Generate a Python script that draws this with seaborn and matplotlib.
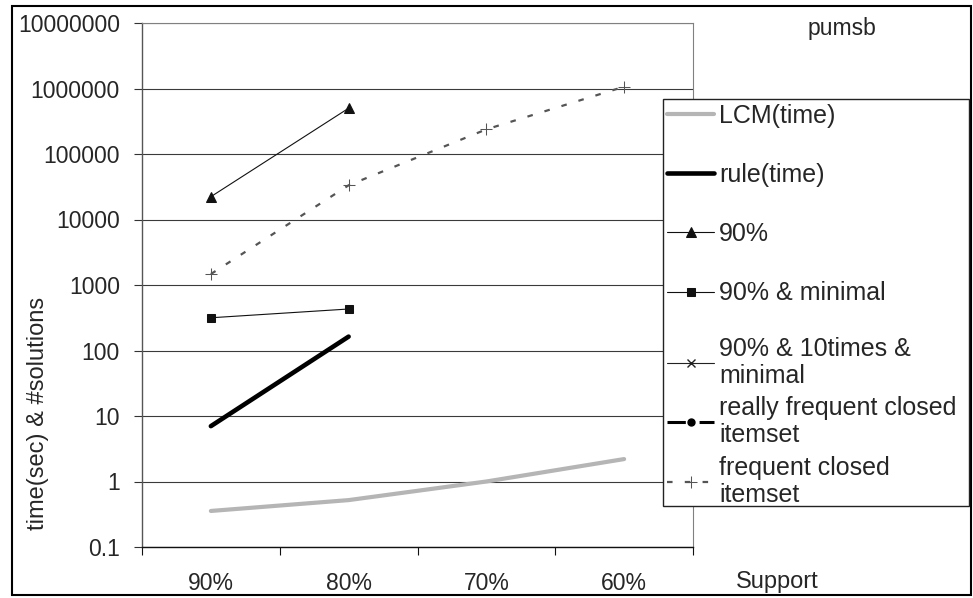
import numpy as np
import pandas as pd
import matplotlib
matplotlib.use("Agg")
import matplotlib.pyplot as plt
from matplotlib.patches import Rectangle
from matplotlib.ticker import FixedLocator, NullFormatter, NullLocator
import seaborn as sns

# data
support = ["90%", "80%", "70%", "60%"]
lcm_time = [0.355, 0.52, 1.0, 2.2]
rule_time = [7.0, 163]
sol_90 = [22300, 500000]
sol_90_min = [316, 430]
freq_closed = [1470, 33300, 238000, 1066000]
y_ticks = [0.1, 1, 10, 100, 1000, 10000, 100000, 1000000, 10000000]
y_ticklabels = ["0.1", "1", "10", "100", "1000", "10000", "100000", "1000000", "10000000"]

sns.set_style("white")
plt.rcParams["font.family"] = ["Liberation Sans", "DejaVu Sans"]

W, H = 973, 598
fig = plt.figure(figsize=(W / 100, H / 100), dpi=100)


def fx(px):
    return px / W


def fy(py):
    return 1 - py / H


ax = fig.add_axes([fx(142), fy(547), (693 - 142) / W, (547 - 23) / H])

x_all = np.arange(len(support))
x_two = x_all[:2]

sns.lineplot(x=x_all, y=lcm_time, ax=ax, color="#b5b5b5", lw=3,
             label="LCM(time)", legend=False)
sns.lineplot(x=x_two, y=rule_time, ax=ax, color="black", lw=3.3,
             label="rule(time)", legend=False)
sns.lineplot(x=x_two, y=sol_90, ax=ax, color="#111111", lw=0.8, marker="^",
             markersize=7, markeredgecolor="#111111", label="90%", legend=False)
sns.lineplot(x=x_two, y=sol_90_min, ax=ax, color="#111111", lw=0.8, marker="s",
             markersize=6, markeredgecolor="#111111", label="90% & minimal",
             legend=False)
# series without points in this chart, kept for the legend
ax.plot([], [], color="#222222", lw=0.8, marker="x", markersize=6,
        label="90% & 10times &\nminimal")
ax.plot([], [], color="black", lw=2.2, ls=(0, (6, 1.5, 1.5, 1.5)), marker="o",
        markersize=5, label="really frequent closed\nitemset")
sns.lineplot(x=x_all, y=freq_closed, ax=ax, color="#555555", lw=1.6,
             marker="+", markersize=8, markeredgecolor="#555555",
             label="frequent closed\nitemset", legend=False)
ax.lines[-1].set_dashes((2.5, 5.5))

ax.set_yscale("log")
ax.set_ylim(0.1, 1e7)
ax.yaxis.set_major_locator(FixedLocator(y_ticks))
ax.set_yticklabels(y_ticklabels)
ax.yaxis.set_minor_locator(NullLocator())
ax.grid(axis="y", color="#3a3a3a", lw=0.8)
ax.tick_params(axis="y", which="major", direction="out", length=6, width=0.8,
               color="#333333", labelsize=16.5, pad=10, left=True)

ax.set_xlim(-0.5, len(support) - 0.5)
ax.xaxis.set_major_locator(FixedLocator(np.arange(len(support) + 1) - 0.5))
ax.xaxis.set_major_formatter(NullFormatter())
ax.xaxis.set_minor_locator(FixedLocator(x_all))
ax.set_xticklabels(support, minor=True)
ax.tick_params(axis="x", which="major", direction="out", length=6, width=0.8,
               color="#111111", bottom=True)
ax.tick_params(axis="x", which="minor", length=0, labelsize=16.5, pad=18)
ax.set_xlabel("")
ax.set_ylabel("")

for side in ["top", "right"]:
    ax.spines[side].set_color("#808080")
    ax.spines[side].set_linewidth(0.8)
ax.spines["left"].set_color("#555555")
ax.spines["bottom"].set_color("#111111")
for side in ["left", "bottom"]:
    ax.spines[side].set_linewidth(1)

fig.text(fx(38), fy(413), "time(sec) & #solutions", rotation=90,
         ha="center", va="center", fontsize=17)
fig.text(fx(777), fy(582), "Support", ha="center", va="center", fontsize=17)
fig.text(fx(842), fy(29), "pumsb", ha="center", va="center", fontsize=16.5)

handles, labels = ax.get_legend_handles_labels()
leg_kw = dict(loc="upper left", frameon=False, fontsize=18, handlelength=1.88,
              handletextpad=0.2, borderpad=0.0, borderaxespad=0)
leg1 = fig.legend(handles[:4], labels[:4], bbox_to_anchor=(fx(667), fy(103.5)),
                  labelspacing=1.41, **leg_kw)
leg2 = fig.legend(handles[4:], labels[4:], bbox_to_anchor=(fx(667), fy(336.5)),
                  labelspacing=0.34, **leg_kw)
for t in leg2.get_texts():
    t.set_linespacing(1.16)

# legend frame and outer chart border
fig.add_artist(Rectangle((fx(663), fy(506)), (969 - 663) / W, (506 - 99) / H,
                         transform=fig.transFigure, fill=True, facecolor="white",
                         edgecolor="#222222", lw=1, zorder=2))
leg1.set_zorder(3)
leg2.set_zorder(3)
fig.add_artist(Rectangle((fx(12), fy(595)), (971 - 12) / W, (595 - 6) / H,
                         transform=fig.transFigure, fill=False,
                         edgecolor="black", lw=1.5))

fig.savefig("out.png", dpi=100)
